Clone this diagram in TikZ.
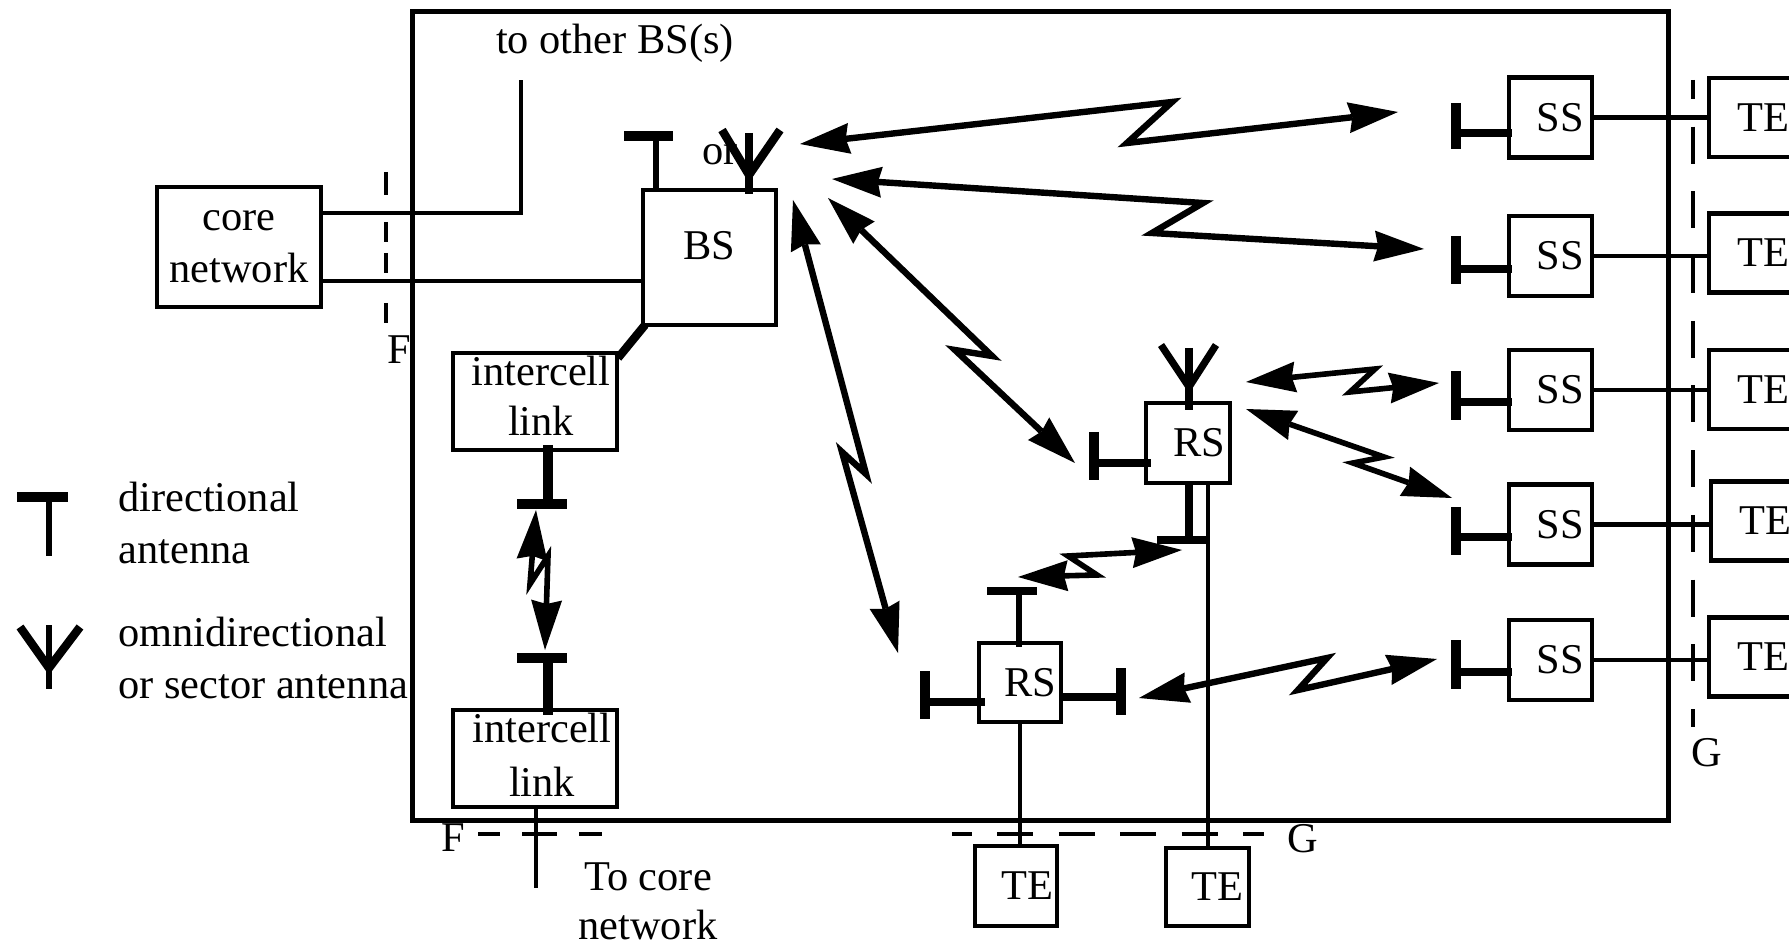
\documentclass[tikz,border=0pt]{standalone}
\usepackage{fontspec}
\setmainfont{Liberation Serif}
\usetikzlibrary{arrows.meta}
\tikzset{
  bx/.style 2 args={draw=black,line width=2.2pt,outer sep=0pt,inner sep=0pt,align=center,
    minimum width=#1*0.5pt,minimum height=#2*0.5pt},
  txt/.style={inner sep=0pt,align=center},
  conn/.style={draw=black,line width=2.1pt},
  frameline/.style={draw=black,line width=2.5pt},
  thinstem/.style={draw=black,line width=3pt},
  thickstem/.style={draw=black,line width=4pt},
  heavystem/.style={draw=black,line width=5pt},
  barline/.style={draw=black,line width=4.6pt},
  armline/.style={draw=black,line width=4.2pt},
  cutline/.style={draw=black,line width=2.4pt},
  bolt/.style={draw=black,line width=3.2pt,miter limit=20,
    {Stealth[length=25pt,width=15.5pt,inset=2pt,line width=0pt]}-{Stealth[length=25pt,width=15.5pt,inset=2pt,line width=0pt]}},
}
\begin{document}
\begin{tikzpicture}[x=0.5pt,y=-0.5pt,font=\fontsize{21.2}{25.2}\selectfont]
\useasboundingbox (0,0) rectangle (1789,946);
% frame
\node[bx={1256}{808},frameline] (frame) at (1040,416) {};
% core network
\node[bx={164}{120}] (core) at (239,247) {core\\[1pt]network};
\node[txt] (toother) at (615,43) {to other BS(s)};
\coordinate (otherend) at (521,80);
\coordinate (otherelbow) at (521,213);
\coordinate (coreup) at (321,213);
\coordinate (coredown) at (321,281);
\draw[conn] (coreup) -- (otherelbow) -- (otherend);
% BS
\node[bx={133}{135}] (bs) at (709.5,257.5) {\raisebox{12pt}{BS}};
\draw[conn] (coredown) -- (coredown -| bs.west);
\node[txt] (orlabel) at (720,155) {or};
% BS antennas
\coordinate (bsT) at (656,136);
\draw[thinstem] (bsT) -- (bsT |- bs.north);
\draw[barline] (624,136) -- (673,136);
\coordinate (bsO) at (749,133);
\draw[heavystem,line width=4pt] (bsO) -- (749,194);
\draw[armline] (722,130) -- (749,175) -- (780,130);
% intercell top
\node[bx={164}{97}] (ic1) at (535,401.5) {\hspace*{6pt}intercell\\\hspace*{6pt}link\rule[-6pt]{0pt}{0pt}};
\draw[armline] (645,325) -- (618,358);
\coordinate (ic1bar) at (548,504);
\draw[heavystem] (548,445) -- (ic1bar);
\draw[barline] (517,504) -- (567,504);
% intercell bottom
\node[bx={164}{97}] (ic2) at (535,758.5) {\hspace*{7pt}intercell\\[2pt]\hspace*{7pt}link\rule[-4pt]{0pt}{0pt}};
\coordinate (ic2bar) at (548,658);
\draw[heavystem] (ic2bar) -- (548,715);
\draw[barline] (517,658) -- (567,658);
\coordinate (coreout) at (536,888);
\draw[conn] (536,807) -- (coreout);
\node[txt] (tocore) at (648,877) {To core};
\node[txt] (tocore2) at (648,925) {network};
% F cuts
\coordinate (fv1) at (386,172);
\coordinate (fv2) at (386,323);
\draw[cutline,dash pattern=on 11.5pt off 13.5pt on 10pt off 5.5pt on 10pt off 15pt on 10pt off 20pt] (fv1) -- (fv2);
\node[txt] (fv) at (399,350) {F};
\node[txt] (fh) at (453,838) {F};
\coordinate (fh1) at (478,834);
\coordinate (fh2) at (602,834);
\draw[cutline,dash pattern=on 17.5pt off 11pt,dash phase=6.5pt] (fh1) -- (fh2);
% RS upper
\node[bx={84}{80}] (rsa) at (1188,443) {\hspace*{11pt}RS};
\draw[heavystem,line width=3.6pt] (1189,348) -- (1189,410);
\draw[armline,line width=3.6pt] (1161,345) -- (1189,387) -- (1216,345);
\draw[barline] (1094,432) -- (1094,480);
\draw[thickstem] (1094,463) -- (1151,463);
\draw[thickstem] (1189,483) -- (1189,542);
\draw[barline,line width=4pt] (1157,540) -- (1208,540);
% RS lower
\node[bx={82}{79}] (rsb) at (1020,682.5) {\hspace*{10pt}RS};
\draw[thinstem] (1019,591) -- (1019,647);
\draw[barline,line width=3.6pt] (987,591) -- (1037,591);
\draw[barline] (925,671) -- (925,719);
\draw[thickstem] (925,702) -- (985,702);
\draw[barline] (1121,668) -- (1121,715);
\draw[thickstem] (1061,697) -- (1121,697);
% bottom TE
\node[bx={82}{80}] (tea) at (1016,886) {\hspace*{11pt}TE};
\node[bx={83}{78}] (teb) at (1207.5,887) {\hspace*{10pt}TE};
\draw[conn] (rsb.south) -- (rsb.south |- tea.north);
\coordinate (rsaline) at (1208,483);
\draw[conn] (rsaline) -- (rsaline |- teb.north);
% G cuts
\coordinate (gh1) at (952,834);
\coordinate (gh2) at (1264,834);
\draw[cutline,dash pattern=on 18pt off 12.7pt,dash phase=8pt] (gh1) -- (gh2);
\node[txt] (gh) at (1303,839) {G};
\coordinate (gv1) at (1693,80);
\coordinate (gv2) at (1693,727);
\draw[cutline,dash pattern=on 18.5pt off 13.85pt,dash phase=9pt] (gv1) -- (gv2);
\node[txt] (gv) at (1707,753) {G};
% SS and TE rows
\foreach \n/\sy/\ty/\tx/\bartop/\barbot/\stemy in {
  1/117.5/117.5/1754/103/149.5/133,
  2/256/253/1754/236/284/269,
  3/390/389.5/1754/371/420/402,
  4/524.5/521/1756/507/555/537,
  5/660/657/1754/640/689/672}{
  \node[bx={83}{80}] (ss\n) at (1550.5,\sy) {\hspace*{10pt}SS};
  \node[bx={90}{79}] (te\n) at (\tx,\ty) {\hspace*{9pt}TE};
  \draw[conn] (ss\n.east) -- (te\n.west |- ss\n.east);
  \draw[barline] (1456,\bartop) -- (1456,\barbot);
  \draw[thickstem] (1456,\stemy) -- (1512,\stemy);
}
% wireless links
\coordinate (g1) at (800,144);  \coordinate (g2) at (1172,102); \coordinate (g3) at (1127,143); \coordinate (g4) at (1398,112);
\draw[bolt] (g1) -- (g2) -- (g3) -- (g4);
\coordinate (h1) at (832,179);  \coordinate (h2) at (1203,203); \coordinate (h3) at (1152,233); \coordinate (h4) at (1424,249);
\draw[bolt] (h1) -- (h2) -- (h3) -- (h4);
\coordinate (c1) at (828,198);  \coordinate (c2) at (992,356);  \coordinate (c3) at (955,350);  \coordinate (c4) at (1075,463);
\draw[bolt] (c1) -- (c2) -- (c3) -- (c4);
\coordinate (f1) at (793,200);  \coordinate (f2) at (866,474);  \coordinate (f3) at (842,452);  \coordinate (f4) at (898,653);
\draw[bolt] (f1) -- (f2) -- (f3) -- (f4);
\coordinate (a1) at (1246,382); \coordinate (a2) at (1375,369); \coordinate (a3) at (1350,392); \coordinate (a4) at (1439,383);
\draw[bolt,line width=2.8pt] (a1) -- (a2) -- (a3) -- (a4);
\coordinate (b1) at (1246,409); \coordinate (b2) at (1384,457); \coordinate (b3) at (1353,463); \coordinate (b4) at (1452,498);
\draw[bolt,line width=2.8pt] (b1) -- (b2) -- (b3) -- (b4);
\coordinate (d1) at (1182,550); \coordinate (d2) at (1068,556); \coordinate (d3) at (1097,575); \coordinate (d4) at (1018,577);
\draw[bolt,line width=2.8pt] (d1) -- (d2) -- (d3) -- (d4);
\coordinate (e1) at (1139,698); \coordinate (e2) at (1327,658); \coordinate (e3) at (1298,690); \coordinate (e4) at (1437,659);
\draw[bolt] (e1) -- (e2) -- (e3) -- (e4);
\coordinate (i1) at (536,510);  \coordinate (i2) at (530,584);  \coordinate (i3) at (548,556);  \coordinate (i4) at (545,650);
\draw[bolt,line width=2.8pt] (i1) -- (i2) -- (i3) -- (i4);
% legend
\draw[barline] (17,497) -- (68,497);
\draw[thinstem] (49,497) -- (49,556);
\node[txt,anchor=base west] (l1) at (118,511) {directional};
\node[txt,anchor=base west] (l2) at (118,564) {antenna};
\draw[thinstem,line width=3.4pt] (49,625) -- (49,689);
\draw[armline] (20,627) -- (49,668) -- (80,627);
\node[txt,anchor=base west] (l3) at (118,646) {omnidirectional};
\node[txt,anchor=base west] (l4) at (118,698) {or sector antenna};
\end{tikzpicture}
\end{document}
